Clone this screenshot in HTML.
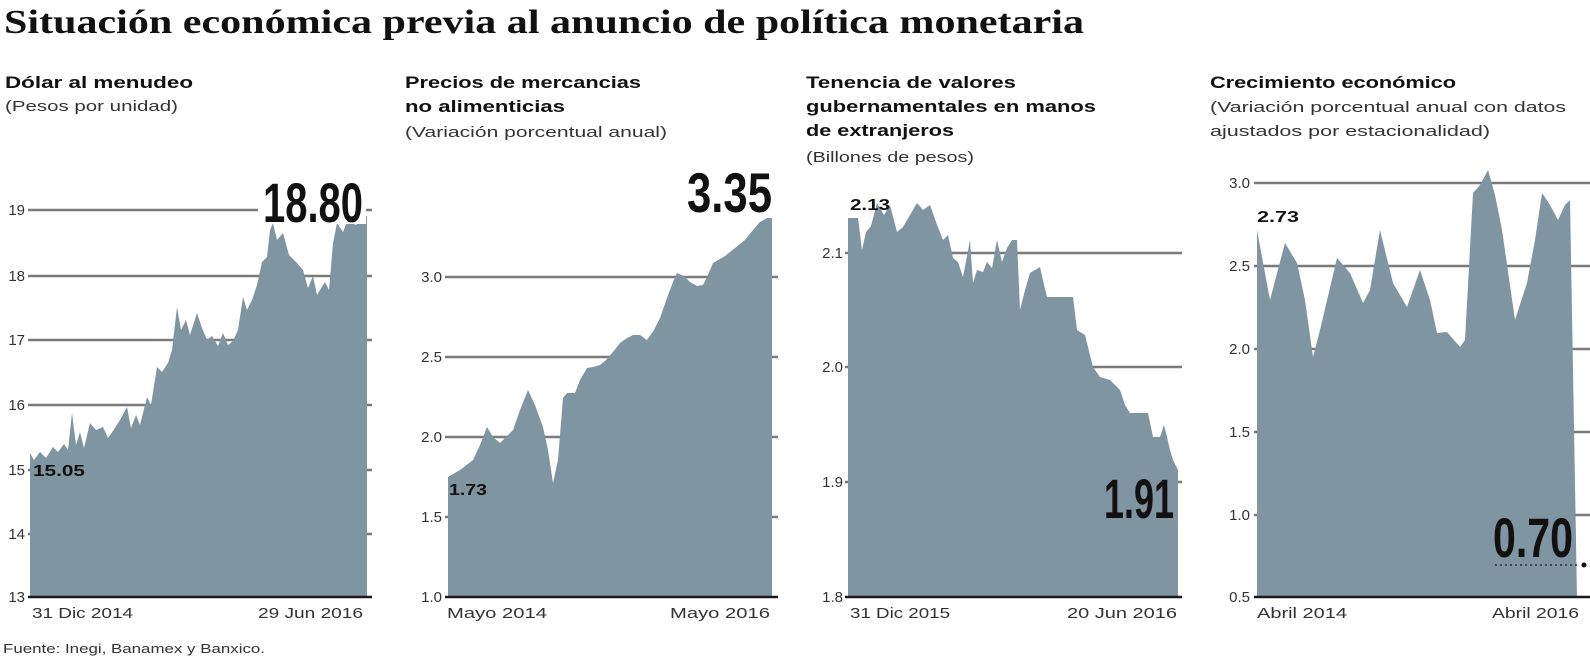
<!DOCTYPE html>
<html><head><meta charset="utf-8"><style>
html,body{margin:0;padding:0;background:#fff;}
svg{display:block;}
text{font-family:"Liberation Sans",sans-serif;}
.t{font-weight:bold;font-size:17px;fill:#111;}
.s{font-size:15px;fill:#333;}
.ax{font-size:15px;fill:#333;}
.y{font-size:15px;fill:#333;text-anchor:end;}
.v{font-weight:bold;font-size:16px;fill:#111;}
.big{font-family:"Liberation Sans Narrow","Liberation Sans",sans-serif;font-weight:bold;font-size:56px;fill:#111;}
.g{stroke:#7a7a7a;stroke-width:2.5;}
.a{fill:#7f95a2;}
.b{stroke:#1a1a1a;stroke-width:2.5;}
</style></head><body>
<svg width="1590" height="666" viewBox="0 0 1590 666" xmlns="http://www.w3.org/2000/svg">
<text x="4" y="33" font-family="Liberation Serif,serif" font-weight="bold" font-size="34" fill="#111" textLength="1080" lengthAdjust="spacingAndGlyphs" style="font-family:'Liberation Serif',serif">Situación económica previa al anuncio de política monetaria</text>

<!-- headers -->
<text class="t" x="5" y="88" textLength="188" lengthAdjust="spacingAndGlyphs">Dólar al menudeo</text>
<text class="s" x="5" y="111" textLength="173" lengthAdjust="spacingAndGlyphs">(Pesos por unidad)</text>

<text class="t" x="405" y="88" textLength="236" lengthAdjust="spacingAndGlyphs">Precios de mercancias</text>
<text class="t" x="405" y="112" textLength="160" lengthAdjust="spacingAndGlyphs">no alimenticias</text>
<text class="s" x="405" y="137" textLength="262" lengthAdjust="spacingAndGlyphs">(Variación porcentual anual)</text>

<text class="t" x="806" y="88" textLength="210" lengthAdjust="spacingAndGlyphs">Tenencia de valores</text>
<text class="t" x="806" y="112" textLength="290" lengthAdjust="spacingAndGlyphs">gubernamentales en manos</text>
<text class="t" x="806" y="136" textLength="148" lengthAdjust="spacingAndGlyphs">de extranjeros</text>
<text class="s" x="806" y="162" textLength="168" lengthAdjust="spacingAndGlyphs">(Billones de pesos)</text>

<text class="t" x="1210" y="88" textLength="246" lengthAdjust="spacingAndGlyphs">Crecimiento económico</text>
<text class="s" x="1210" y="112" textLength="356" lengthAdjust="spacingAndGlyphs">(Variación porcentual anual con datos</text>
<text class="s" x="1210" y="136" textLength="280" lengthAdjust="spacingAndGlyphs">ajustados por estacionalidad)</text>

<!-- Panel 1 -->
<g>
<line class="g" x1="28" y1="210" x2="372" y2="210"/>
<line class="g" x1="28" y1="276" x2="372" y2="276"/>
<line class="g" x1="28" y1="340" x2="372" y2="340"/>
<line class="g" x1="28" y1="405" x2="372" y2="405"/>
<line class="g" x1="28" y1="470" x2="372" y2="470"/>
<line class="g" x1="28" y1="534" x2="372" y2="534"/>
<polygon class="a" points="30,597 30,453 34,460 40,452 46,458 53,447 58,452 64,444 68,450 72,413 76,445 80,432 84,448 90,423 96,430 103,427 108,438 113,431 120,420 127,407 131,428 136,415 140,425 147,397 151,405 157,367 162,372 168,363 172,350 177,307 181,330 186,320 190,335 197,313 202,328 207,340 212,336 218,346 223,333 228,345 233,341 238,330 243,297 247,310 252,300 257,285 262,262 267,257 270,230 273,223 277,240 283,233 289,255 296,262 303,270 308,288 313,276 317,295 320,290 325,282 329,290 333,243 337,223 343,232 350,214 355,225 360,223 364,212 367,217 367,597"/>
<line class="b" x1="28" y1="597" x2="372" y2="597"/>
<rect x="258" y="176" width="108" height="48" fill="#fff"/>
<text class="big" x="263" y="222" textLength="100" lengthAdjust="spacingAndGlyphs">18.80</text>
<text class="v" x="33" y="476" textLength="52" lengthAdjust="spacingAndGlyphs">15.05</text>
<text class="y" x="25" y="215">19</text>
<text class="y" x="25" y="281">18</text>
<text class="y" x="25" y="345">17</text>
<text class="y" x="25" y="410">16</text>
<text class="y" x="25" y="475">15</text>
<text class="y" x="25" y="539">14</text>
<text class="y" x="25" y="602">13</text>
<text class="ax" x="32" y="618" textLength="101" lengthAdjust="spacingAndGlyphs">31 Dic 2014</text>
<text class="ax" x="258" y="618" textLength="105" lengthAdjust="spacingAndGlyphs">29 Jun 2016</text>
</g>

<!-- Panel 2 -->
<g>
<line class="g" x1="445" y1="277" x2="778" y2="277"/>
<line class="g" x1="445" y1="357" x2="778" y2="357"/>
<line class="g" x1="445" y1="437" x2="778" y2="437"/>
<line class="g" x1="445" y1="517" x2="778" y2="517"/>
<polygon class="a" points="448,597 448,477 460,470 473,460 480,445 487,427 493,437 500,443 507,436 513,430 520,410 528,390 535,405 543,427 548,450 553,483 558,460 563,398 567,393 575,393 580,380 587,368 593,367 600,365 606,360 613,352 620,343 627,338 633,335 640,335 647,340 654,330 660,318 667,298 673,282 677,273 684,276 690,282 697,286 703,285 708,275 713,263 725,256 735,248 745,240 753,230 760,222 767,218 772,218 772,597"/>
<line class="b" x1="445" y1="597" x2="778" y2="597"/>
<text class="big" x="687" y="212" textLength="85" lengthAdjust="spacingAndGlyphs">3.35</text>
<text class="v" x="449" y="495" textLength="38" lengthAdjust="spacingAndGlyphs">1.73</text>
<text class="y" x="442" y="282">3.0</text>
<text class="y" x="442" y="362">2.5</text>
<text class="y" x="442" y="442">2.0</text>
<text class="y" x="442" y="522">1.5</text>
<text class="y" x="442" y="602">1.0</text>
<text class="ax" x="447" y="618" textLength="100" lengthAdjust="spacingAndGlyphs">Mayo 2014</text>
<text class="ax" x="670" y="618" textLength="100" lengthAdjust="spacingAndGlyphs">Mayo 2016</text>
</g>

<!-- Panel 3 -->
<g>
<line class="g" x1="845" y1="253" x2="1182" y2="253"/>
<line class="g" x1="845" y1="367" x2="1182" y2="367"/>
<line class="g" x1="845" y1="482" x2="1182" y2="482"/>
<polygon class="a" points="848,597 848,218 858,218 862,250 866,232 871,226 877,203 884,215 890,205 897,232 903,227 910,215 917,203 923,210 930,205 936,222 943,240 948,235 953,258 958,262 963,277 967,256 970,240 973,283 977,270 983,272 987,262 992,268 997,240 1002,262 1007,248 1012,240 1017,240 1020,310 1025,290 1030,273 1035,270 1040,267 1044,285 1047,297 1055,297 1063,297 1073,297 1077,330 1085,335 1090,355 1093,367 1100,377 1110,380 1120,390 1125,405 1130,413 1140,413 1148,413 1153,437 1160,437 1164,425 1167,437 1170,450 1173,460 1178,470 1178,597"/>
<line class="b" x1="845" y1="597" x2="1182" y2="597"/>
<text class="big" x="1104" y="518" textLength="70" lengthAdjust="spacingAndGlyphs">1.91</text>
<text class="v" x="850" y="210" textLength="40" lengthAdjust="spacingAndGlyphs">2.13</text>
<text class="y" x="843" y="258">2.1</text>
<text class="y" x="843" y="372">2.0</text>
<text class="y" x="843" y="487">1.9</text>
<text class="y" x="843" y="602">1.8</text>
<text class="ax" x="850" y="618" textLength="100" lengthAdjust="spacingAndGlyphs">31 Dic 2015</text>
<text class="ax" x="1067" y="618" textLength="110" lengthAdjust="spacingAndGlyphs">20 Jun 2016</text>
</g>

<!-- Panel 4 -->
<g>
<line class="g" x1="1254" y1="183" x2="1590" y2="183"/>
<line class="g" x1="1254" y1="266" x2="1590" y2="266"/>
<line class="g" x1="1254" y1="349" x2="1590" y2="349"/>
<line class="g" x1="1254" y1="432" x2="1590" y2="432"/>
<line class="g" x1="1254" y1="515" x2="1590" y2="515"/>
<polygon class="a" points="1257,597 1257,230 1270,300 1285,243 1297,263 1305,300 1313,357 1320,330 1337,258 1350,273 1363,303 1370,290 1380,230 1393,283 1407,307 1420,270 1430,300 1437,333 1447,332 1460,347 1465,340 1473,193 1480,185 1488,170 1495,195 1502,230 1515,320 1527,283 1535,240 1542,193 1550,205 1558,220 1565,205 1570,200 1577,597"/>
<line class="b" x1="1254" y1="597" x2="1590" y2="597"/>
<text class="big" x="1493" y="557" textLength="80" lengthAdjust="spacingAndGlyphs">0.70</text>
<line x1="1495" y1="565" x2="1578" y2="565" stroke="#333" stroke-width="1.5" stroke-dasharray="2,3"/>
<circle cx="1584" cy="565" r="2.5" fill="#111"/>
<text class="v" x="1257" y="222" textLength="42" lengthAdjust="spacingAndGlyphs">2.73</text>
<text class="y" x="1250" y="188">3.0</text>
<text class="y" x="1250" y="271">2.5</text>
<text class="y" x="1250" y="354">2.0</text>
<text class="y" x="1250" y="437">1.5</text>
<text class="y" x="1250" y="520">1.0</text>
<text class="y" x="1250" y="602">0.5</text>
<text class="ax" x="1257" y="618" textLength="90" lengthAdjust="spacingAndGlyphs">Abril 2014</text>
<text class="ax" x="1492" y="618" textLength="87" lengthAdjust="spacingAndGlyphs">Abril 2016</text>
</g>

<text x="3" y="653" font-size="13" fill="#333" textLength="262" lengthAdjust="spacingAndGlyphs">Fuente: Inegi, Banamex y Banxico.</text>
</svg>
</body></html>
